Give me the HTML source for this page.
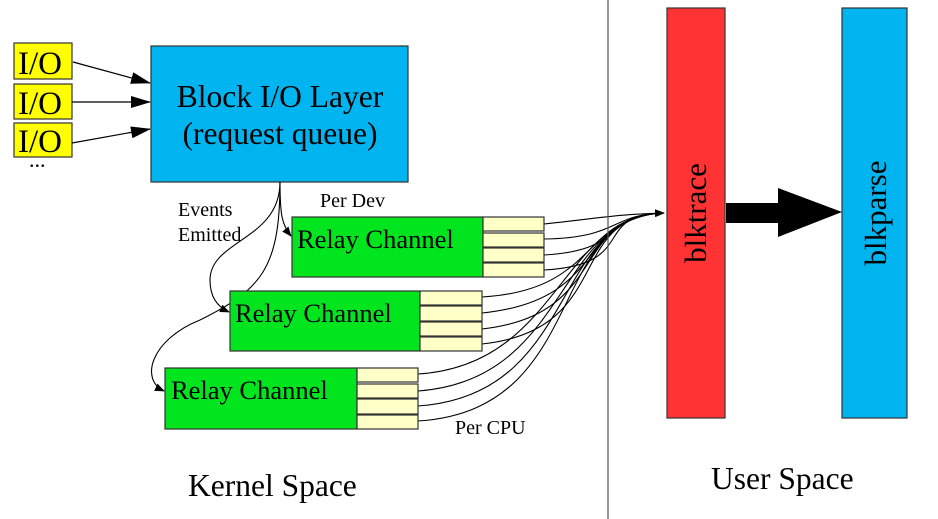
<!DOCTYPE html>
<html><head><style>body{margin:0;background:#fff}svg{display:block}text{font-family:"Liberation Serif",serif;fill:#000}</style></head><body>
<svg width="938" height="519" viewBox="0 0 938 519">
<defs><marker id="a" markerWidth="10" markerHeight="8" refX="9" refY="4" orient="auto" markerUnits="userSpaceOnUse" viewBox="0 0 10 8"><path d="M0,0L10,4L0,8z" fill="#000"/></marker>
<marker id="b" markerWidth="20" markerHeight="12" refX="19" refY="6" orient="auto" markerUnits="userSpaceOnUse" viewBox="0 0 20 12"><path d="M0,0L20,6L0,12z" fill="#000"/></marker></defs>
<g stroke="#333" stroke-width="1.2" fill="#ff0">
<rect x="14" y="43" width="58" height="36"/><rect x="14" y="84" width="58" height="35"/><rect x="14" y="123" width="58" height="34"/></g>
<g font-size="33"><text x="18" y="74">I/O</text><text x="18" y="114">I/O</text><text x="18" y="152">I/O</text></g>
<text x="29" y="167" font-size="22">...</text>
<g stroke="#000" stroke-width="1.2" marker-end="url(#b)"><line x1="73" y1="62" x2="150" y2="83"/><line x1="72" y1="102" x2="150" y2="102"/><line x1="72" y1="143" x2="150" y2="129"/></g>
<rect x="151" y="46" width="257" height="136" fill="#00b4ef" stroke="#333" stroke-width="1.2"/>
<text x="280" y="107" font-size="31.5" text-anchor="middle">Block I/O Layer</text>
<text x="280" y="144" font-size="31.5" text-anchor="middle">(request queue)</text>
<g fill="none" stroke="#000" stroke-width="1.1">
<path d="M280,182 C280,215 282,225 291,236" marker-end="url(#a)"/>
<path d="M280,182 C280,240 210,240 210,280 C210,300 220,308 229,312" marker-end="url(#a)"/>
<path d="M280,182 C280,270 260,290 200,320 C150,340 140,380 164,391" marker-end="url(#a)"/>
<path d="M544,224 C600,218 620,214 664,213" marker-end="url(#a)"/>
<path d="M544,239 C620,238 610,214 664,213"/><path d="M544,255 C630,250 600,214 664,213"/><path d="M544,270 C640,265 590,214 664,213"/>
<path d="M482,297 C600,290 580,216 664,213"/><path d="M482,313 C610,300 575,216 664,213"/><path d="M482,329 C610,315 570,216 664,213"/><path d="M482,344 C615,330 565,216 664,213"/>
<path d="M418,374 C560,365 560,216 664,213"/><path d="M418,391 C570,380 555,216 664,213"/><path d="M418,406 C580,395 550,216 664,213"/><path d="M418,421 C590,410 545,216 664,213"/>
</g>
<g stroke="#333" stroke-width="1.2">
<rect x="292" y="217" width="191" height="60" fill="#00e51e"/>
<rect x="483" y="217" width="61" height="14" fill="#ffffc8"/><rect x="483" y="233" width="61" height="14" fill="#ffffc8"/><rect x="483" y="248" width="61" height="14" fill="#ffffc8"/><rect x="483" y="263" width="61" height="14" fill="#ffffc8"/>
<rect x="230" y="291" width="190" height="60" fill="#00e51e"/>
<rect x="420" y="291" width="62" height="14" fill="#ffffc8"/><rect x="420" y="306" width="62" height="15" fill="#ffffc8"/><rect x="420" y="322" width="62" height="14" fill="#ffffc8"/><rect x="420" y="337" width="62" height="14" fill="#ffffc8"/>
<rect x="165" y="368" width="192" height="61" fill="#00e51e"/>
<rect x="357" y="368" width="61" height="14" fill="#ffffc8"/><rect x="357" y="384" width="61" height="14" fill="#ffffc8"/><rect x="357" y="399" width="61" height="15" fill="#ffffc8"/><rect x="357" y="415" width="61" height="14" fill="#ffffc8"/>
</g>
<g font-size="26.5"><text x="297" y="248">Relay Channel</text><text x="235" y="322">Relay Channel</text><text x="171" y="399">Relay Channel</text></g>
<g font-size="20"><text x="178" y="216">Events</text><text x="178" y="241">Emitted</text><text x="320" y="207">Per Dev</text><text x="455" y="434">Per CPU</text></g>
<text x="188" y="496" font-size="31.5">Kernel Space</text>
<text x="711" y="489" font-size="31.5">User Space</text>
<line x1="608" y1="0" x2="608" y2="519" stroke="#555" stroke-width="1.2"/>
<rect x="667" y="8" width="58" height="410" fill="#ff3333" stroke="#333" stroke-width="1.2"/>
<rect x="842" y="8" width="65" height="410" fill="#00b4ef" stroke="#333" stroke-width="1.2"/>
<path d="M726,203H778V188L842,212L778,237V223H726z" fill="#000"/>
<text transform="translate(706,213) rotate(-90)" font-size="31" text-anchor="middle">blktrace</text>
<text transform="translate(886,213) rotate(-90)" font-size="31" text-anchor="middle">blkparse</text>
</svg></body></html>
